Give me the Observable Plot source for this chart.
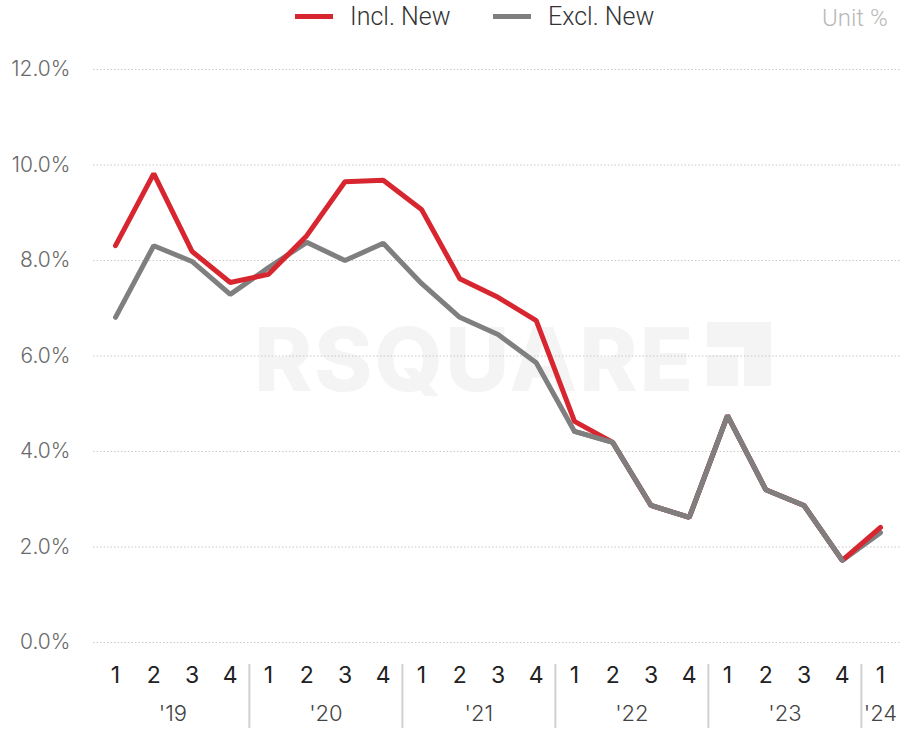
<!DOCTYPE html>
<html><head><meta charset="utf-8">
<script src="https://cdn.jsdelivr.net/npm/d3@7"></script>
<script src="https://cdn.jsdelivr.net/npm/@observablehq/plot@0.6"></script>
<style>
body{margin:0;background:#fff;font-family:Inter,"Noto Sans",sans-serif;}
#wrap{position:relative;width:901px;height:731px;overflow:hidden;}
#legend{position:absolute;top:0;left:0;width:901px;height:34px;font-family:Roboto,Inter,sans-serif;font-weight:300;font-size:25px;color:#333;}
.sw{position:absolute;top:14px;width:38px;height:5px;}
.lt{position:absolute;top:2px;}
#wm{position:absolute;left:254px;top:306px;font-size:88px;font-weight:800;color:#f4f4f4;letter-spacing:2px;}
.wb{position:absolute;background:#f4f4f4;}
#chart{position:absolute;top:0;left:0;}
</style></head>
<body>
<div id="wrap">
<div id="wm">RSQUARE</div>
<div class="wb" style="left:707px;top:322px;width:64px;height:25px"></div>
<div class="wb" style="left:744px;top:322px;width:27px;height:64px"></div>
<div class="wb" style="left:707px;top:355px;width:31px;height:31px"></div>
<div id="chart"></div>
<div id="legend">
<div class="sw" style="left:295px;background:#d7262f"></div><div class="lt" style="left:350px">Incl. New</div>
<div class="sw" style="left:493px;background:#7f7f7f"></div><div class="lt" style="left:548px">Excl. New</div>
<div class="lt" style="left:822px;color:#b8b8b8;font-size:24px;top:4px">Unit %</div>
</div>
</div>
<script>
const quarters = ["1","2","3","4","1","2","3","4","1","2","3","4","1","2","3","4","1","2","3","4","1"];
const years = ["'19","'20","'21","'22","'23","'24"];
const yearStart = [0,4,8,12,16,20];
const yearEnd = [3,7,11,15,19,20];
const inclNew = [8.31,9.82,8.19,7.54,7.71,8.52,9.65,9.68,9.07,7.62,7.23,6.74,4.63,4.19,2.87,2.62,4.75,3.20,2.87,1.72,2.41];
const exclNew = [6.81,8.31,7.98,7.29,7.85,8.38,8.00,8.36,7.52,6.81,6.45,5.86,4.42,4.19,2.87,2.62,4.75,3.20,2.87,1.72,2.30];
const yTicks = [0,2,4,6,8,10,12];
const separators = [3.5,7.5,11.5,15.5,19.5];

const idx = quarters.map((q,i)=>i);
const yearData = years.map((y,i)=>({label:y, x:(yearStart[i]+yearEnd[i])/2}));

const chart = Plot.plot({
  width: 901, height: 731,
  marginTop: 69, marginBottom: 89, marginLeft: 93, marginRight: 1,
  insetLeft: 22, insetRight: 20,
  style: {background: "transparent", fontFamily: "Inter, 'Noto Sans', sans-serif"},
  x: {type: "linear", domain: [0, 20], axis: null},
  y: {domain: [0, 12], axis: null},
  marks: [
    Plot.ruleY(yTicks, {stroke: "#c8c8c8", strokeWidth: 1, strokeDasharray: "1.5,2"}),
    Plot.text(yTicks, {y: d => d, text: d => d.toFixed(1) + "%", frameAnchor: "left", textAnchor: "end", dx: -23, fontSize: 21, fontWeight: 300, fill: "#6a6a6a"}),
    Plot.line(idx, {x: i => i, y: i => exclNew[i], stroke: "#7f7f7f", strokeWidth: 5, strokeLinejoin: "miter"}),
    Plot.line(idx, {x: i => i, y: i => inclNew[i], stroke: "#d7262f", strokeWidth: 5, strokeLinejoin: "miter"}),
    Plot.line(idx.slice(12, 20), {x: i => i, y: i => exclNew[i], stroke: "#7f7f7f", strokeWidth: 5, strokeLinejoin: "miter"}),
    Plot.text(idx, {x: i => i, text: i => quarters[i], frameAnchor: "bottom", dy: 40, fontSize: 23, fill: "#222"}),
    Plot.text(yearData, {x: "x", text: "label", frameAnchor: "bottom", dy: 78, fontSize: 22, fontWeight: 300, fill: "#444"}),
    Plot.ruleX(separators, {y1: -0.46, y2: -1.8, stroke: "#d0d0d0", strokeWidth: 2})
  ]
});
document.getElementById("chart").appendChild(chart);
</script>
</body></html>
